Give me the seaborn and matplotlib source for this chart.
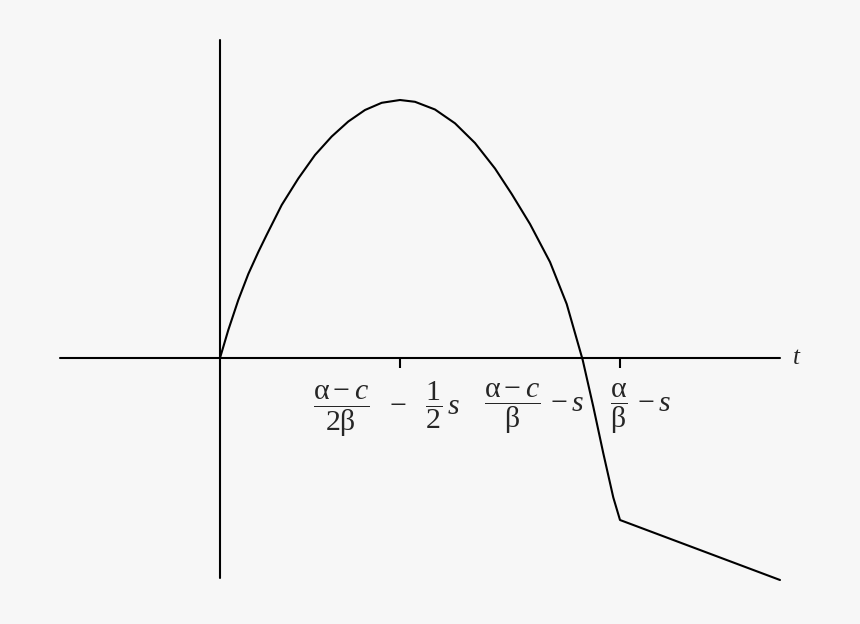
# Profit curve sketch: parabola then a straight falling segment

import pandas as pd
import seaborn as sns
import matplotlib.pyplot as plt

# data (in t units)

curve_t = [0, 0.415, 0.915, 1.415, 1.915, 2.33, 3.085, 3.915, 4.75, 5.585,
           6.415, 7.25, 8.085, 9, 9.75, 10.75, 11.75, 12.75, 13.75, 14.585,
           15.5, 16.5, 17.335, 18.135, 18.665, 19.165, 19.665, 20, 28]
curve_y = [0, 1.4, 2.9, 4.2, 5.3, 6.15, 7.65, 8.975, 10.15, 11.075,
           11.825, 12.4, 12.76, 12.9, 12.81, 12.425, 11.735, 10.75, 9.475, 8.2,
           6.7, 4.8, 2.7, -0.1, -2.435, -4.765, -6.975, -8.1, -11.1]

h_axis_t = [-8, 28]
v_axis_y = [-11, 15.9]
tick_t = [9, 20]

label_t = [8.35, 15.68, 21.03]
label_text = [
    r"$\dfrac{\mathrm{α} - c}{2\mathrm{β}}\ \ -\ \ \dfrac{1}{2}\,s$",
    r"$\dfrac{\mathrm{α} - c}{\mathrm{β}}\,-s$",
    r"$\dfrac{\mathrm{α}}{\mathrm{β}}\,-s$",
]

sns.set_style("white")
plt.rcParams['mathtext.fontset'] = 'custom'
plt.rcParams['mathtext.rm'] = 'Liberation Serif'
plt.rcParams['mathtext.it'] = 'Liberation Serif:italic'
plt.rcParams['font.family'] = ['Liberation Serif', 'DejaVu Sans']

bg = '#f7f7f7'
fig = plt.figure(figsize=(8.6, 6.24), dpi=100, facecolor=bg)
ax = fig.add_axes([0, 0, 1, 1])
ax.set_facecolor(bg)

df = pd.DataFrame({'t': curve_t, 'y': curve_y})
sns.lineplot(data=df, x='t', y='y', sort=False, estimator=None,
             color='black', linewidth=1.5, ax=ax)

# axes drawn as plain lines
ax.plot(h_axis_t, [0, 0], color='black', linewidth=1.5)
ax.plot([0, 0], v_axis_y, color='black', linewidth=1.5)
ax.vlines(tick_t, -0.5, 0, color='black', linewidth=1.5)

for xt, txt in zip(label_t, label_text):
    ax.text(xt, -2.55, txt, ha='center', va='center', fontsize=21.5)

ax.text(28.85, 0, r"$t$", ha='center', va='center', fontsize=18)

ax.set_xlim(-11, 32)
ax.set_ylim(-13.3, 17.9)
ax.set_xlabel("")
ax.set_ylabel("")
ax.axis('off')

plt.savefig("out.png", dpi=100, facecolor=bg)
